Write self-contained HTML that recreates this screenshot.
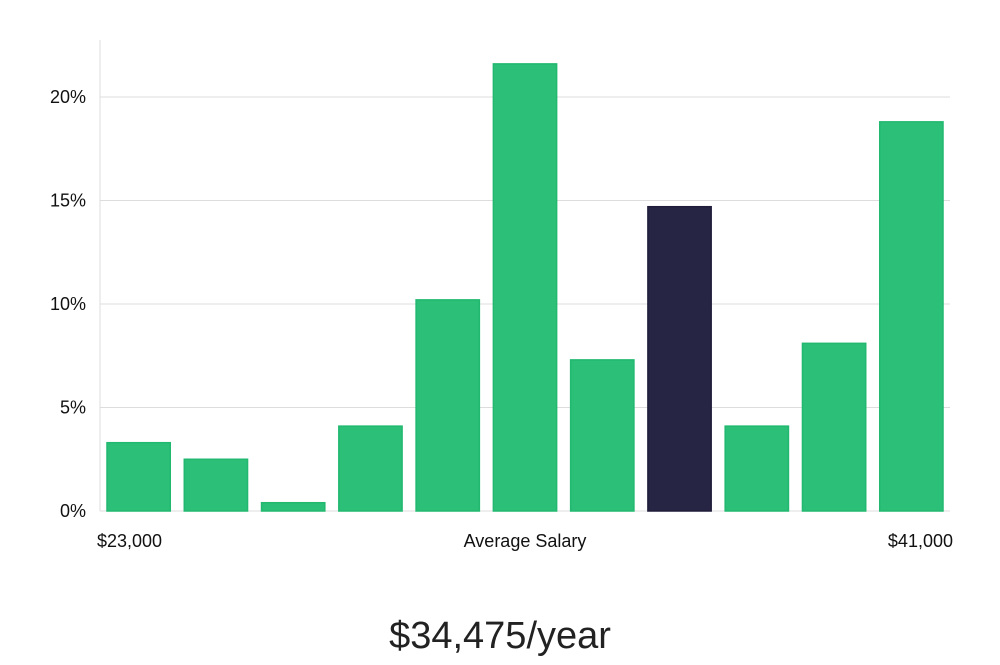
<!DOCTYPE html>
<html><head><meta charset="utf-8"><style>
body{margin:0;background:#fff;width:1000px;height:660px;overflow:hidden;font-family:"Liberation Sans","DejaVu Sans",sans-serif}
</style></head><body>
<svg id="chart" width="1000" height="660" xmlns="http://www.w3.org/2000/svg">
<g id="grid"></g><g id="bars"></g><g id="labels"></g>
<text x="500" y="648" text-anchor="middle" font-size="38" fill="#222" font-weight="300">$34,475/year</text>
</svg>
<script>
const values=[3.3,2.5,0.4,4.1,10.2,21.6,7.3,14.7,4.1,8.1,18.8];
const highlight=[false,false,false,false,false,false,false,true,false,false,false];
const yTicks=[0,5,10,15,20];
const yTickLabels=["0%","5%","10%","15%","20%"];
const xLabels=["$23,000","Average Salary","$41,000"];
const ns="http://www.w3.org/2000/svg";
const x0=100,x1=950,yBase=511,pxPerPct=20.7;
const y=v=>yBase-v*pxPerPct;
const slot=(x1-x0)/values.length;
function mk(t,a,p){const e=document.createElementNS(ns,t);for(const k in a)e.setAttribute(k,a[k]);p.appendChild(e);return e;}
const grid=document.getElementById('grid'),bars=document.getElementById('bars'),labels=document.getElementById('labels');
yTicks.forEach((t,i)=>{
 if(t>0){const l=mk('line',{x1:x0,x2:x1,y1:y(t),y2:y(t),stroke:'#ddd','stroke-width':1},grid);
 
 }
 const tx=mk('text',{x:86,y:y(t)+6,'text-anchor':'end','font-size':18,fill:'#111'},labels);
 tx.textContent=yTickLabels[i];
 
 
});
const ax=mk('line',{x1:x0,x2:x0,y1:40,y2:yBase,stroke:'#ddd','stroke-width':1},grid);


const bx=mk('line',{x1:x0,x2:x1,y1:yBase,y2:yBase,stroke:'#ddd','stroke-width':1},grid);


values.forEach((v,i)=>{
 const r=mk('rect',{x:x0+i*slot+7,y:y(v),width:slot-14,height:yBase-y(v),fill:highlight[i]?'#272544':'#2bbf78',stroke:highlight[i]?'#1f1d3a':'#22b870','stroke-width':1.5},bars);
 
 
});
const xl=[[97,'start'],[525,'middle'],[953,'end']];
xLabels.forEach((s,i)=>{
 const t=mk('text',{x:xl[i][0],y:547,'text-anchor':xl[i][1],'font-size':18,fill:'#111'},labels);
 t.textContent=s;
 
 
});
</script>
</body></html>
